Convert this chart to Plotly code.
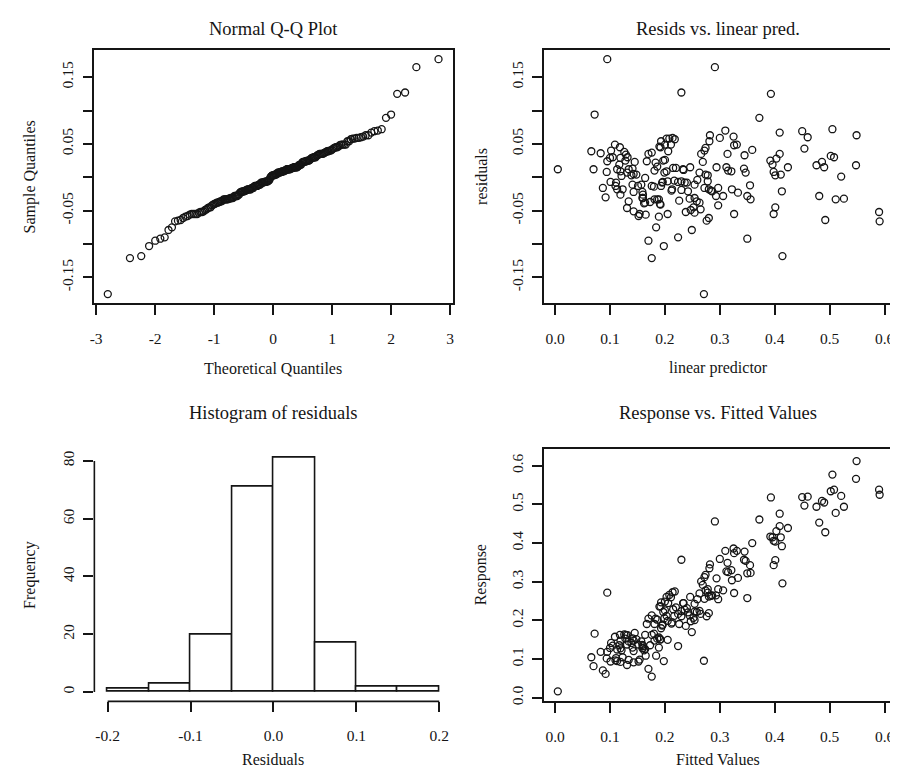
import plotly.graph_objects as go
from plotly.subplots import make_subplots
from statistics import NormalDist

# ---------------- data ----------------
linear_pred = [
    0.005, 0.095, 0.072, 0.066, 0.070, 0.083, 0.087, 0.092, 0.094, 0.095,
    0.100, 0.102, 0.109, 0.101, 0.118, 0.105, 0.111, 0.113, 0.117, 0.119,
    0.121, 0.123, 0.126, 0.128, 0.119, 0.129, 0.132, 0.131, 0.134, 0.131,
    0.143, 0.152, 0.145, 0.141, 0.143, 0.139, 0.148, 0.141, 0.143, 0.151,
    0.159, 0.159, 0.162, 0.164, 0.167, 0.170, 0.176, 0.170, 0.176, 0.176,
    0.180, 0.173, 0.164, 0.181, 0.184, 0.189, 0.183, 0.181, 0.189, 0.191,
    0.190, 0.193, 0.193, 0.197, 0.198, 0.200, 0.199, 0.196, 0.203, 0.208,
    0.214, 0.218, 0.211, 0.206, 0.205, 0.203, 0.200, 0.205, 0.212, 0.217,
    0.220, 0.224, 0.230, 0.226, 0.230, 0.230, 0.234, 0.238, 0.240, 0.242,
    0.245, 0.246, 0.247, 0.249, 0.252, 0.254, 0.258, 0.259, 0.263, 0.265,
    0.263, 0.266, 0.269, 0.272, 0.274, 0.271, 0.272, 0.276, 0.280, 0.278,
    0.278, 0.280, 0.284, 0.281, 0.282, 0.291, 0.294, 0.293, 0.297, 0.297,
    0.300, 0.306, 0.310, 0.312, 0.314, 0.315, 0.321, 0.322, 0.325, 0.326,
    0.331, 0.326, 0.333, 0.344, 0.345, 0.347, 0.350, 0.350, 0.355, 0.356,
    0.359, 0.372, 0.393, 0.392, 0.396, 0.398, 0.401, 0.398, 0.403, 0.401,
    0.409, 0.409, 0.411, 0.413, 0.414, 0.424, 0.450, 0.454, 0.460, 0.476,
    0.481, 0.486, 0.490, 0.492, 0.502, 0.508, 0.505, 0.511, 0.521, 0.526,
    0.549, 0.548, 0.590, 0.591, 0.160, 0.160, 0.186, 0.192, 0.157, 0.195,
    0.224, 0.213, 0.236, 0.254, 0.286, 0.110, 0.119, 0.154, 0.254, 0.165,
    0.113, 0.134, 0.192, 0.186, 0.215, 0.233, 0.274,
]

residuals = [
    0.012, 0.177, 0.094, 0.039, 0.012, 0.036, -0.016, -0.030, 0.008, 0.024,
    0.029, 0.040, 0.049, -0.007, 0.045, 0.030, -0.008, -0.018, 0.019, 0.009,
    0.002, -0.018, 0.038, 0.025, 0.029, 0.034, 0.030, 0.007, -0.036, -0.046,
    -0.051, -0.058, 0.023, 0.013, 0.005, 0.003, 0.004, -0.011, -0.022, -0.013,
    -0.022, -0.031, -0.039, -0.001, 0.024, 0.035, 0.037, -0.095, -0.121, -0.013,
    -0.014, -0.037, -0.038, -0.033, -0.075, -0.059, 0.022, 0.010, -0.033, -0.040,
    0.046, 0.054, -0.013, 0.025, -0.103, 0.049, 0.007, -0.007, 0.058, 0.058,
    0.059, 0.057, 0.049, 0.039, -0.055, 0.009, 0.026, -0.006, -0.020, -0.005,
    0.014, -0.090, 0.127, -0.035, -0.006, -0.019, 0.011, -0.052, -0.008, -0.021,
    -0.032, 0.015, -0.049, -0.079, -0.045, -0.011, -0.036, -0.004, -0.038, -0.048,
    0.007, 0.035, 0.023, 0.040, 0.044, -0.175, -0.016, -0.065, -0.061, -0.006,
    0.003, -0.018, -0.020, 0.054, 0.063, 0.165, 0.015, -0.028, -0.016, -0.042,
    0.059, -0.028, 0.070, 0.015, 0.035, 0.010, 0.009, -0.018, 0.061, 0.048,
    0.049, -0.055, -0.023, 0.013, 0.033, 0.007, -0.028, -0.092, -0.012, -0.033,
    0.041, 0.089, 0.125, 0.025, 0.019, 0.008, -0.045, -0.055, 0.028, 0.003,
    0.035, 0.067, 0.004, -0.021, -0.118, 0.015, 0.069, 0.043, 0.060, 0.018,
    -0.028, 0.023, 0.015, -0.064, 0.032, 0.030, 0.072, -0.033, 0.001, -0.032,
    0.063, 0.018, -0.052, -0.066, -0.026, -0.031, -0.033, -0.041, -0.011, -0.008,
    -0.007, -0.018, -0.008, -0.031, -0.021, -0.013, -0.026, -0.055, -0.053, -0.056,
    0.012, 0.012, 0.045, 0.016, 0.014, 0.012, 0.004,
]

# response = fitted value + residual (identity link)
response = [f + r for f, r in zip(linear_pred, residuals)]

# Normal Q-Q: sorted residuals against normal quantiles of ppoints(n)
n = len(residuals)
theoretical_q = [NormalDist().inv_cdf((i + 0.5) / n) for i in range(n)]
sample_q = sorted(residuals)

titles = ["Normal Q-Q Plot", "Resids vs. linear pred.",
          "Histogram of residuals", "Response vs. Fitted Values"]
x_titles = ["Theoretical Quantiles", "linear predictor", "Residuals", "Fitted Values"]
y_titles = ["Sample Quantiles", "residuals", "Frequency", "Response"]

qq_xticks = [-3, -2, -1, 0, 1, 2, 3]
qq_xtext = ["-3", "-2", "-1", "0", "1", "2", "3"]
res_yticks = [-0.15, -0.10, -0.05, 0.0, 0.05, 0.10, 0.15]
res_ytext = ["-0.15", "", "-0.05", "", "0.05", "", "0.15"]
lp_xticks = [0.0, 0.1, 0.2, 0.3, 0.4, 0.5, 0.6]
lp_xtext = ["0.0", "0.1", "0.2", "0.3", "0.4", "0.5", "0.6"]
hist_xticks = [-0.2, -0.1, 0.0, 0.1, 0.2]
hist_xtext = ["-0.2", "-0.1", "0.0", "0.1", "0.2"]
hist_yticks = [0, 20, 40, 60, 80]
hist_ytext = ["0", "20", "40", "60", "80"]
resp_yticks = [0.0, 0.1, 0.2, 0.3, 0.4, 0.5, 0.6]
resp_ytext = ["0.0", "0.1", "0.2", "0.3", "0.4", "0.5", "0.6"]

# ---------------- styling ----------------
W, H = 898, 768
FONT = "Liberation Serif, Times New Roman, serif"
INK = "#151515"

def px_x(p):
    return p / W

def px_y(p):
    return 1 - p / H

dom_x = [[px_x(82), px_x(443)], [px_x(535), px_x(887)]]
dom_y_top = [px_y(297), px_y(42)]
dom_y_bot = [px_y(697), px_y(443)]

fig = make_subplots(rows=2, cols=2)

marker = dict(symbol="circle-open", size=7, color=INK, line=dict(width=1.3, color=INK))

fig.add_trace(go.Scatter(x=theoretical_q, y=sample_q, mode="markers", marker=marker,
                         showlegend=False), row=1, col=1)
fig.add_trace(go.Scatter(x=linear_pred, y=residuals, mode="markers", marker=marker,
                         showlegend=False), row=1, col=2)
fig.add_trace(go.Histogram(x=residuals, xbins=dict(start=-0.2, end=0.2, size=0.05),
                           marker=dict(color="white", line=dict(color=INK, width=1.6)),
                           showlegend=False), row=2, col=1)
fig.add_trace(go.Scatter(x=linear_pred, y=response, mode="markers", marker=marker,
                         showlegend=False), row=2, col=2)

tick_common = dict(
    ticks="outside", ticklen=10, tickwidth=1.5, tickcolor=INK,
    tickfont=dict(family=FONT, size=15.5, color=INK),
    showgrid=False, zeroline=False,
)
x_common = dict(ticklabelstandoff=10, **tick_common)
y_common = dict(ticklabelstandoff=3, tickangle=-90, **tick_common)
box = dict(showline=True, linecolor=INK, linewidth=1.6, mirror=True)

fig.update_layout(
    xaxis=dict(domain=dom_x[0], range=[-3.03, 3.04], tickvals=qq_xticks, ticktext=qq_xtext,
               **x_common, **box),
    yaxis=dict(domain=dom_y_top, range=[-0.189, 0.191], tickvals=res_yticks, ticktext=res_ytext,
               **y_common, **box),
    xaxis2=dict(domain=dom_x[1], range=[-0.0205, 0.6155], tickvals=lp_xticks, ticktext=lp_xtext,
                **x_common, **box),
    yaxis2=dict(domain=dom_y_top, range=[-0.189, 0.191], tickvals=res_yticks, ticktext=res_ytext,
                **y_common, **box),
    xaxis3=dict(domain=dom_x[0], range=[-0.216, 0.216], tickvals=hist_xticks, ticktext=hist_xtext,
                showline=False, **x_common),
    yaxis3=dict(domain=dom_y_bot, range=[-3.24, 84.24], tickvals=hist_yticks, ticktext=hist_ytext,
                showline=False, **y_common),
    xaxis4=dict(domain=dom_x[1], range=[-0.0205, 0.6155], tickvals=lp_xticks, ticktext=lp_xtext,
                **x_common, **box),
    yaxis4=dict(domain=dom_y_bot, range=[-0.009, 0.644], tickvals=resp_yticks, ticktext=resp_ytext,
                **y_common, **box),
    bargap=0,
    width=W, height=H,
    margin=dict(l=0, r=0, t=0, b=0),
    paper_bgcolor="white", plot_bgcolor="white",
    font=dict(family=FONT, color=INK),
)

# R-style axis lines for the histogram (span first to last tick only)
fig.add_shape(type="line", xref="x3", yref="y3 domain", x0=hist_xticks[0], x1=hist_xticks[-1],
              y0=0, y1=0, line=dict(color=INK, width=1.6))
fig.add_shape(type="line", xref="x3 domain", yref="y3", x0=0, x1=0,
              y0=hist_yticks[0], y1=hist_yticks[-1], line=dict(color=INK, width=1.6))

# titles and axis labels
title_pos = [(262.5, 21), (711, 21), (262.5, 407), (711, 407)]
xlab_pos = [(262.5, 362), (711, 362), (262.5, 755), (711, 755)]
ylab_pos = [(17, 169.5), (472, 169.5), (17, 570), (472, 570)]

for i in range(4):
    tx, ty = title_pos[i]
    fig.add_annotation(x=px_x(tx), y=px_y(ty), xref="paper", yref="paper", text=titles[i],
                       showarrow=False, xanchor="center", yanchor="middle",
                       font=dict(family=FONT, size=18.5, color=INK))
    lx, ly = xlab_pos[i]
    fig.add_annotation(x=px_x(lx), y=px_y(ly), xref="paper", yref="paper", text=x_titles[i],
                       showarrow=False, xanchor="center", yanchor="middle",
                       font=dict(family=FONT, size=16, color=INK))
    vx, vy = ylab_pos[i]
    fig.add_annotation(x=px_x(vx), y=px_y(vy), xref="paper", yref="paper", text=y_titles[i],
                       showarrow=False, xanchor="center", yanchor="middle", textangle=-90,
                       font=dict(family=FONT, size=16, color=INK))

fig.write_html("out.html")
